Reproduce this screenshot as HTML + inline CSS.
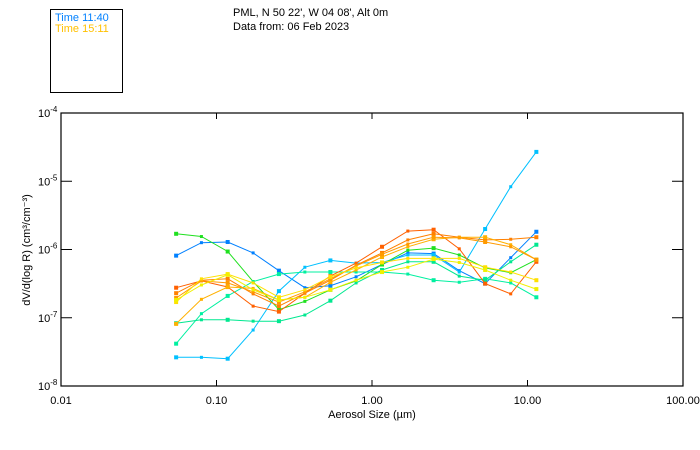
<!DOCTYPE html>
<html><head><meta charset="utf-8"><style>
body{margin:0;background:#fff;}
svg{display:block;font-family:"Liberation Sans",sans-serif;}
</style></head><body>
<svg id="chart" width="700" height="450">
<rect x="50.5" y="9.5" width="72" height="83" fill="none" stroke="#000"/>
<text x="55" y="21" font-size="11" fill="#0080ff">Time 11:40</text>
<text x="55" y="32" font-size="11" fill="#ffc000">Time 15:11</text>
<text x="233" y="16" font-size="11">PML, N 50 22', W 04 08', Alt 0m</text>
<text x="233" y="30" font-size="11">Data from: 06 Feb 2023</text>
<rect x="61" y="113" width="622" height="273" fill="none" stroke="#000" stroke-width="1.2"/>
<g id="axes"></g>
<g id="series"></g>
<text x="372" y="418" font-size="11" text-anchor="middle">Aerosol Size (µm)</text>
<text transform="translate(30,250) rotate(-90)" font-size="11" text-anchor="middle">dV/d(log R) (cm³/cm⁻³)</text>
</svg>
<script>
const xTicks=[0.01,0.1,1,10,100];
const xTickLabels=["0.01","0.10","1.00","10.00","100.00"];
const yExps=[-8,-7,-6,-5,-4];
const sizes=[0.055,0.08,0.118,0.172,0.252,0.37,0.54,0.79,1.16,1.7,2.49,3.64,5.34,7.8,11.4];
const colors=["#0080ff","#00c0ff","#20e020","#00f0a0","#00e890","#ff6000","#ff8000","#ffb000","#ff9a00","#ffe000","#f0f000"];
// values in log10 units
const sBlue=[-6.09,-5.90,-5.89,-6.05,-6.31,-6.56,-6.53,-6.40,-6.22,-6.05,-6.06,-6.31,-6.50,-6.12,-5.74];
const sSky=[-7.58,-7.58,-7.60,-7.18,-6.61,-6.26,-6.16,-6.20,-6.19,-6.08,-6.08,-6.33,-5.70,-5.08,-4.57];
const sGreen=[-5.77,-5.81,-6.03,-6.47,-6.88,-6.76,-6.59,-6.46,-6.22,-6.01,-5.98,-6.08,-6.27,-6.34,-6.15];
const sTeal=[-7.38,-6.94,-6.68,-6.47,-6.36,-6.33,-6.33,-6.33,-6.33,-6.36,-6.45,-6.48,-6.43,-6.49,-6.70];
const sTeal2=[-7.08,-7.03,-7.03,-7.05,-7.05,-6.96,-6.75,-6.49,-6.30,-6.18,-6.18,-6.39,-6.45,-6.18,-5.93];
const sRed=[-6.56,-6.46,-6.55,-6.83,-6.91,-6.64,-6.39,-6.20,-5.96,-5.73,-5.71,-5.99,-6.50,-6.65,-6.18];
const sOrange=[-6.64,-6.45,-6.43,-6.65,-6.83,-6.64,-6.45,-6.23,-6.05,-5.86,-5.77,-5.82,-5.86,-5.85,-5.82];
const sGold=[-7.09,-6.73,-6.55,-6.57,-6.74,-6.70,-6.48,-6.30,-6.11,-5.96,-5.85,-5.82,-5.82,-5.93,-6.15];
const sOrange2=[-6.71,-6.46,-6.49,-6.62,-6.77,-6.62,-6.43,-6.24,-6.07,-5.92,-5.82,-5.83,-5.89,-5.96,-6.15];
const sYellow=[-6.77,-6.43,-6.36,-6.49,-6.70,-6.59,-6.40,-6.27,-6.19,-6.13,-6.13,-6.13,-6.26,-6.33,-6.45];
const sYellow2=[-6.74,-6.52,-6.37,-6.59,-6.74,-6.70,-6.59,-6.45,-6.33,-6.26,-6.14,-6.19,-6.30,-6.45,-6.58];
const allSeries=[sBlue,sSky,sGreen,sTeal,sTeal2,sRed,sOrange,sGold,sOrange2,sYellow,sYellow2];
const seriesNames=["series-1140","series-sky","series-green","series-teal","series-teal2","series-red","series-orange","series-gold","series-orange2","series-yellow","series-1511"];
const X0=61,X1=683,Y0=386,Y1=113;
function xs(v){return X0+(Math.log10(v)+2)/4*(X1-X0);}
function ys(l){return Y0-(l+8)/4*(Y0-Y1);}
const NS="http://www.w3.org/2000/svg";
const ax=document.getElementById('axes');
function mk(t,a,p){const e=document.createElementNS(NS,t);for(const k in a)e.setAttribute(k,a[k]);p.appendChild(e);return e;}
xTicks.forEach((v,i)=>{const x=xs(v);
 if(i>0&&i<xTicks.length-1){
 const t1=mk('line',{x1:x,x2:x,y1:Y0,y2:Y0-6,stroke:'#000'},ax);
 
 
 const t2=mk('line',{x1:x,x2:x,y1:Y1,y2:Y1+6,stroke:'#000'},ax);
 
 }
 const l=mk('text',{x:x,y:404,'font-size':11,'text-anchor':'middle'},ax);l.textContent=xTickLabels[i];
 
 
});
yExps.forEach((e,i)=>{const y=ys(e);
 if(i>0&&i<yExps.length-1){
 const t1=mk('line',{x1:X0,x2:X0+11,y1:y,y2:y,stroke:'#000'},ax);
 
 
 const t2=mk('line',{x1:X1,x2:X1-11,y1:y,y2:y,stroke:'#000'},ax);
 
 }
 const l=mk('text',{x:38,y:y+4,'font-size':11},ax);
 
 
 l.textContent='10';
 const s=mk('tspan',{'font-size':8,dy:-5},l);s.textContent=String(e);
});
const sg=document.getElementById('series');
allSeries.forEach((vals,si)=>{
 const g=mk('g',{},sg);
 
 
 const pts=vals.map((v,i)=>xs(sizes[i]).toFixed(1)+','+ys(v).toFixed(1)).join(' ');
 mk('polyline',{points:pts,fill:'none',stroke:colors[si],'stroke-width':1},g);
 vals.forEach((v,i)=>{const r=i%2===0?4:3;
  const m=mk('rect',{x:xs(sizes[i])-r/2,y:ys(v)-r/2,width:r,height:r,fill:colors[si]},g);
  
  
 });
});
</script>
</body></html>
